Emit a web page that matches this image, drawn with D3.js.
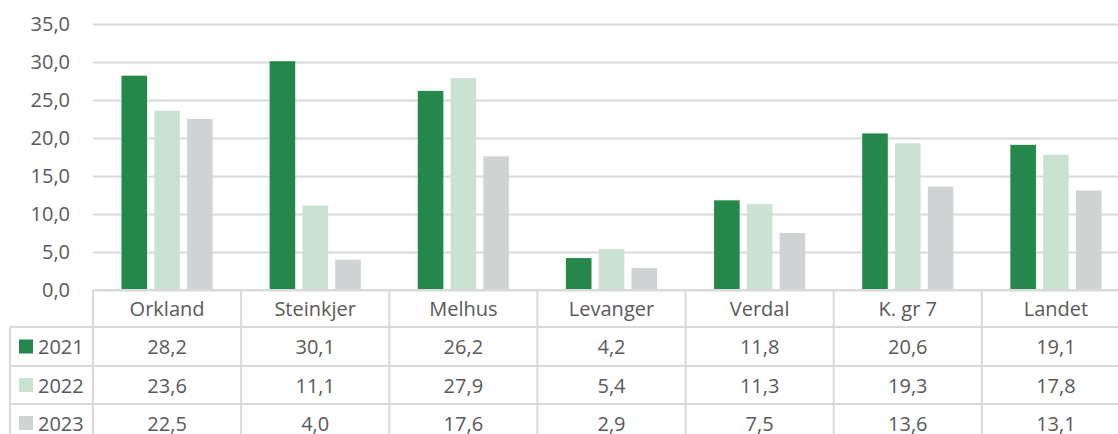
<!DOCTYPE html>
<html lang="no">
<head>
<meta charset="utf-8">
<title>Kommuner 2021-2023</title>
<script src="https://d3js.org/d3.v7.min.js"></script>
<style>
  html, body { margin: 0; padding: 0; background: #fff; }
  svg text { font-family: "Open Sans", sans-serif; font-size: 20px; fill: #595959; }
  .grid line { stroke: #d9d9d9; stroke-width: 1.8; }
</style>
</head>
<body>
<svg id="chart" width="1118" height="434"></svg>
<script>
// data
const categories = ["Orkland", "Steinkjer", "Melhus", "Levanger", "Verdal", "K. gr 7", "Landet"];
const years = ["2021", "2022", "2023"];
const v2021 = [28.2, 30.1, 26.2, 4.2, 11.8, 20.6, 19.1];
const v2022 = [23.6, 11.1, 27.9, 5.4, 11.3, 19.3, 17.8];
const v2023 = [22.5, 4.0, 17.6, 2.9, 7.5, 13.6, 13.1];
const yTicks = [0, 5, 10, 15, 20, 25, 30, 35];

const series = [v2021, v2022, v2023];
const colors = ["#23884a", "#c9e2d1", "#d0d3d4"];

const W = 1118, H = 434;
// plot area runs a bit past the right edge (cut off like the original)
const plotLeft = 93, plotRight = 1130, plotTop = 24, zeroY = 290;
const rowLines = [290, 327, 366, 404, 442];
const tableLeft = 10;

const locale = d3.formatLocale({decimal: ",", thousands: " ", grouping: [3], currency: ["", " kr"]});
const fmt = locale.format(".1f");

const svg = d3.select("#chart");

const y = d3.scaleLinear().domain([0, 35]).range([zeroY, plotTop]);
const x0 = d3.scaleBand().domain(categories).range([plotLeft, plotRight]).padding(0);
const x1 = d3.scaleBand().domain(years)
    .range([28.5, x0.bandwidth() - 28.5])
    .paddingInner(0.22).paddingOuter(0);

// gridlines + y labels
const yAxis = d3.axisLeft(y).tickValues(yTicks).tickFormat(fmt)
    .tickSize(-(plotRight - plotLeft)).tickPadding(23);
const gy = svg.append("g").attr("class", "grid")
    .attr("transform", `translate(${plotLeft},0)`)
    .call(yAxis);
gy.select(".domain").remove();
gy.selectAll("text").style("font-size", "20px").attr("fill", "#595959")
    .style("font-family", "'Open Sans', sans-serif");

// bars
const groups = svg.append("g").selectAll("g")
    .data(categories)
    .join("g")
    .attr("transform", d => `translate(${x0(d)},0)`);

groups.selectAll("rect")
    .data((d, i) => years.map((yr, j) => ({yr, v: series[j][i], j})))
    .join("rect")
    .attr("x", d => x1(d.yr))
    .attr("width", x1.bandwidth())
    .attr("y", d => y(d.v))
    .attr("height", d => zeroY - y(d.v))
    .attr("fill", d => colors[d.j]);

// table lines
const tl = svg.append("g").attr("stroke", "#d9d9d9").attr("stroke-width", 2);
tl.append("line").attr("x1", plotLeft).attr("x2", plotRight).attr("y1", rowLines[0]).attr("y2", rowLines[0]);
rowLines.slice(1).forEach(ry => {
  tl.append("line").attr("x1", tableLeft).attr("x2", plotRight).attr("y1", ry).attr("y2", ry);
});
tl.append("line").attr("x1", tableLeft).attr("x2", tableLeft).attr("y1", rowLines[1]).attr("y2", H);
categories.forEach(c => {
  tl.append("line").attr("x1", x0(c)).attr("x2", x0(c)).attr("y1", rowLines[0]).attr("y2", H);
});

// header labels
svg.append("g").selectAll("text")
    .data(categories)
    .join("text")
    .attr("x", d => x0(d) + x0.bandwidth() / 2)
    .attr("y", (rowLines[0] + rowLines[1]) / 2)
    .attr("text-anchor", "middle")
    .attr("dominant-baseline", "central")
    .text(d => d);

// rows
years.forEach((yr, j) => {
  const cy = (rowLines[j + 1] + rowLines[j + 2]) / 2;
  const row = svg.append("g");
  row.append("rect")
      .attr("x", 19).attr("y", cy - 7).attr("width", 14).attr("height", 14)
      .attr("fill", colors[j]);
  row.append("text")
      .attr("x", 38).attr("y", cy)
      .attr("dominant-baseline", "central")
      .text(yr);
  row.selectAll("text.val")
      .data(series[j])
      .join("text")
      .attr("class", "val")
      .attr("x", (d, i) => x0(categories[i]) + x0.bandwidth() / 2)
      .attr("y", cy)
      .attr("text-anchor", "middle")
      .attr("dominant-baseline", "central")
      .text(d => fmt(d));
});
</script>
</body>
</html>
